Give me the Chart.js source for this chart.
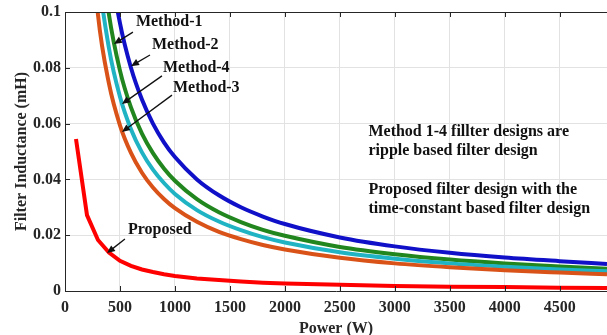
<!DOCTYPE html>
<html>
<head>
<meta charset="utf-8">
<script src="https://cdn.jsdelivr.net/npm/chart.js@4/dist/chart.umd.min.js"></script>
<style>
html, body { margin: 0; padding: 0; background: #fff; overflow: hidden; }
</style>
</head>
<body>
<canvas id="grafico" width="607" height="335"></canvas>
<script>
// Potencia (W) y valores de inductancia (mH) de cada curva
var potenciaMetodos = [200, 300, 400, 500, 600, 700, 800, 900, 1000, 1200, 1400, 1600, 1800, 2000, 2500, 3000, 3500, 4000, 4500, 4930];
var metodo1 = [0.240, 0.160, 0.120, 0.096, 0.080, 0.0686, 0.060, 0.0533, 0.048, 0.040, 0.0343, 0.030, 0.0267, 0.024, 0.0192, 0.016, 0.0137, 0.012, 0.0107, 0.0097];
var metodo2 = [0.1975, 0.132, 0.099, 0.079, 0.0658, 0.0564, 0.0494, 0.0439, 0.0395, 0.0329, 0.0282, 0.0247, 0.0219, 0.0198, 0.0158, 0.0132, 0.0113, 0.0099, 0.0088, 0.0080];
var metodo4 = [0.174, 0.116, 0.087, 0.0696, 0.058, 0.0497, 0.0435, 0.0387, 0.0348, 0.029, 0.0249, 0.0218, 0.0193, 0.0174, 0.0139, 0.0116, 0.0099, 0.0087, 0.0077, 0.0071];
var metodo3 = [0.1485, 0.099, 0.0743, 0.0594, 0.0495, 0.0424, 0.0371, 0.033, 0.0297, 0.0248, 0.0212, 0.0186, 0.0165, 0.0149, 0.0119, 0.0099, 0.0085, 0.0074, 0.0066, 0.0060];

var potenciaPropuesto = [100, 200, 300, 400, 500, 600, 700, 800, 900, 1000, 1200, 1400, 1600, 1800, 2000, 2500, 3000, 3500, 4000, 4500, 4930];
var propuesto = [0.0545, 0.0272, 0.0183, 0.0138, 0.0108, 0.009, 0.0077, 0.0068, 0.006, 0.0054, 0.0045, 0.0039, 0.0034, 0.003, 0.0027, 0.0022, 0.0018, 0.0015, 0.0014, 0.0012, 0.0011];

var xTicks = [0, 500, 1000, 1500, 2000, 2500, 3000, 3500, 4000, 4500];
var xTickLabels = ['0', '500', '1000', '1500', '2000', '2500', '3000', '3500', '4000', '4500'];
var yTicks = [0, 0.02, 0.04, 0.06, 0.08, 0.1];
var yTickLabels = ['0', '0.02', '0.04', '0.06', '0.08', '0.1'];

var fuente = 'bold 16px "Liberation Serif", "Times New Roman", serif';

function puntos(xs, ys) {
    return xs.map(function (x, i) { return { x: x, y: ys[i] }; });
}

// Etiquetas con flecha: texto en (tx, ty), flecha de (ax, ay) a (bx, by), en unidades de datos
var etiquetas = [
    { texto: 'Method-1', tx: 645, ty: 0.0964, ax: 618, ay: 0.0928, bx: 445, by: 0.0885 },
    { texto: 'Method-2', tx: 791, ty: 0.0882, ax: 773, ay: 0.0846, bx: 600, by: 0.0806 },
    { texto: 'Method-4', tx: 891, ty: 0.0799, ax: 882, ay: 0.0771, bx: 518, by: 0.0670 },
    { texto: 'Method-3', tx: 982, ty: 0.0728, ax: 973, ay: 0.0702, bx: 518, by: 0.0570 },
    { texto: 'Proposed', tx: 573, ty: 0.0219, ax: 545, ay: 0.0186, bx: 382, by: 0.0136 }
];
var notas = [
    { texto: 'Method 1-4 fillter designs are', x: 2760, y: 0.0572 },
    { texto: 'ripple based filter design', x: 2760, y: 0.0504 },
    { texto: 'Proposed filter design with the', x: 2760, y: 0.0361 },
    { texto: 'time-constant based filter design', x: 2760, y: 0.0293 }
];

function flecha(ctx, x1, y1, x2, y2) {
    var ang = Math.atan2(y2 - y1, x2 - x1);
    var largo = 8, ancho = 3.5;
    ctx.beginPath();
    ctx.moveTo(x1, y1);
    ctx.lineTo(x2 - Math.cos(ang) * largo * 0.8, y2 - Math.sin(ang) * largo * 0.8);
    ctx.stroke();
    ctx.beginPath();
    ctx.moveTo(x2, y2);
    ctx.lineTo(x2 - Math.cos(ang) * largo - Math.sin(ang) * ancho, y2 - Math.sin(ang) * largo + Math.cos(ang) * ancho);
    ctx.lineTo(x2 - Math.cos(ang) * largo + Math.sin(ang) * ancho, y2 - Math.sin(ang) * largo - Math.cos(ang) * ancho);
    ctx.closePath();
    ctx.fill();
}

var anotaciones = {
    id: 'anotaciones',
    afterDatasetsDraw: function (chart) {
        var ctx = chart.ctx, xs = chart.scales.x, ys = chart.scales.y, a = chart.chartArea;
        ctx.save();
        // marco superior y marcas hacia dentro
        ctx.strokeStyle = '#262626';
        ctx.lineWidth = 1;
        ctx.beginPath();
        ctx.moveTo(a.left, a.top + 0.5);
        ctx.lineTo(a.right, a.top + 0.5);
        xTicks.forEach(function (v) {
            var px = Math.round(xs.getPixelForValue(v)) + 0.5;
            ctx.moveTo(px, a.top);
            ctx.lineTo(px, a.top + 5);
            ctx.moveTo(px, a.bottom);
            ctx.lineTo(px, a.bottom - 5);
        });
        yTicks.forEach(function (v) {
            var py = Math.round(ys.getPixelForValue(v)) + 0.5;
            ctx.moveTo(a.left, py);
            ctx.lineTo(a.left + 5, py);
        });
        ctx.stroke();

        ctx.font = fuente;
        ctx.fillStyle = '#111';
        ctx.strokeStyle = '#111';
        ctx.lineWidth = 1.3;
        ctx.textBaseline = 'middle';
        ctx.textAlign = 'left';
        etiquetas.forEach(function (e) {
            ctx.fillText(e.texto, xs.getPixelForValue(e.tx), ys.getPixelForValue(e.ty));
            flecha(ctx, xs.getPixelForValue(e.ax), ys.getPixelForValue(e.ay),
                xs.getPixelForValue(e.bx), ys.getPixelForValue(e.by));
        });
        notas.forEach(function (n) {
            ctx.fillText(n.texto, xs.getPixelForValue(n.x), ys.getPixelForValue(n.y));
        });
        ctx.restore();
    }
};

function serie(nombre, xs, ys, color, tension) {
    return {
        label: nombre,
        data: puntos(xs, ys),
        borderColor: color,
        backgroundColor: color,
        borderWidth: 4,
        pointRadius: 0,
        fill: false,
        clip: 0,
        tension: tension,
        cubicInterpolationMode: tension ? 'monotone' : 'default'
    };
}

var data = {
    datasets: [
        serie('Method-3', potenciaMetodos, metodo3, '#d95319', 0.4),
        serie('Method-4', potenciaMetodos, metodo4, '#1fb3c4', 0.4),
        serie('Method-2', potenciaMetodos, metodo2, '#22861f', 0.4),
        serie('Method-1', potenciaMetodos, metodo1, '#1010c8', 0.4),
        serie('Proposed', potenciaPropuesto, propuesto, '#ff0000', 0)
    ]
};

var ejeFuente = { family: '"Liberation Serif", "Times New Roman", serif', size: 16, weight: 'bold', lineHeight: 1 };

var options = {
    responsive: false,
    animation: false,
    layout: { padding: { top: 12, right: 0, left: 0, bottom: 0 } },
    plugins: { legend: { display: false }, tooltip: { enabled: false } },
    scales: {
        x: {
            type: 'linear',
            min: 0,
            max: 4930,
            grid: { color: '#e2e2e2', drawTicks: false },
            border: { color: '#262626', width: 1 },
            afterBuildTicks: function (s) { s.ticks = xTicks.map(function (v) { return { value: v }; }); },
            afterFit: function (s) { s.height = 44; },
            ticks: {
                padding: 9,
                color: '#262626',
                font: ejeFuente,
                maxRotation: 0,
                callback: function (v) { return xTickLabels[xTicks.indexOf(v)]; }
            },
            title: {
                display: true, text: 'Power (W)', color: '#262626', padding: 0,
                font: { family: ejeFuente.family, size: 16, weight: 'bold', lineHeight: 0.75 }
            }
        },
        y: {
            min: 0,
            max: 0.1,
            grid: { color: '#e2e2e2', drawTicks: false },
            border: { color: '#262626', width: 1 },
            afterBuildTicks: function (s) { s.ticks = yTicks.map(function (v) { return { value: v }; }); },
            afterFit: function (s) { s.width = 65; },
            ticks: {
                padding: 4,
                color: '#262626',
                font: ejeFuente,
                callback: function (v) { return yTickLabels[yTicks.indexOf(v)]; }
            },
            title: { display: true, text: 'Filter Inductance (mH)', color: '#262626', font: ejeFuente, padding: { top: 14, bottom: 0 } }
        }
    }
};

var ctx = document.getElementById('grafico').getContext('2d');
var grafico = new Chart(ctx, {
    type: 'line',
    data: data,
    options: options,
    plugins: [anotaciones]
});
</script>
</body>
</html>
